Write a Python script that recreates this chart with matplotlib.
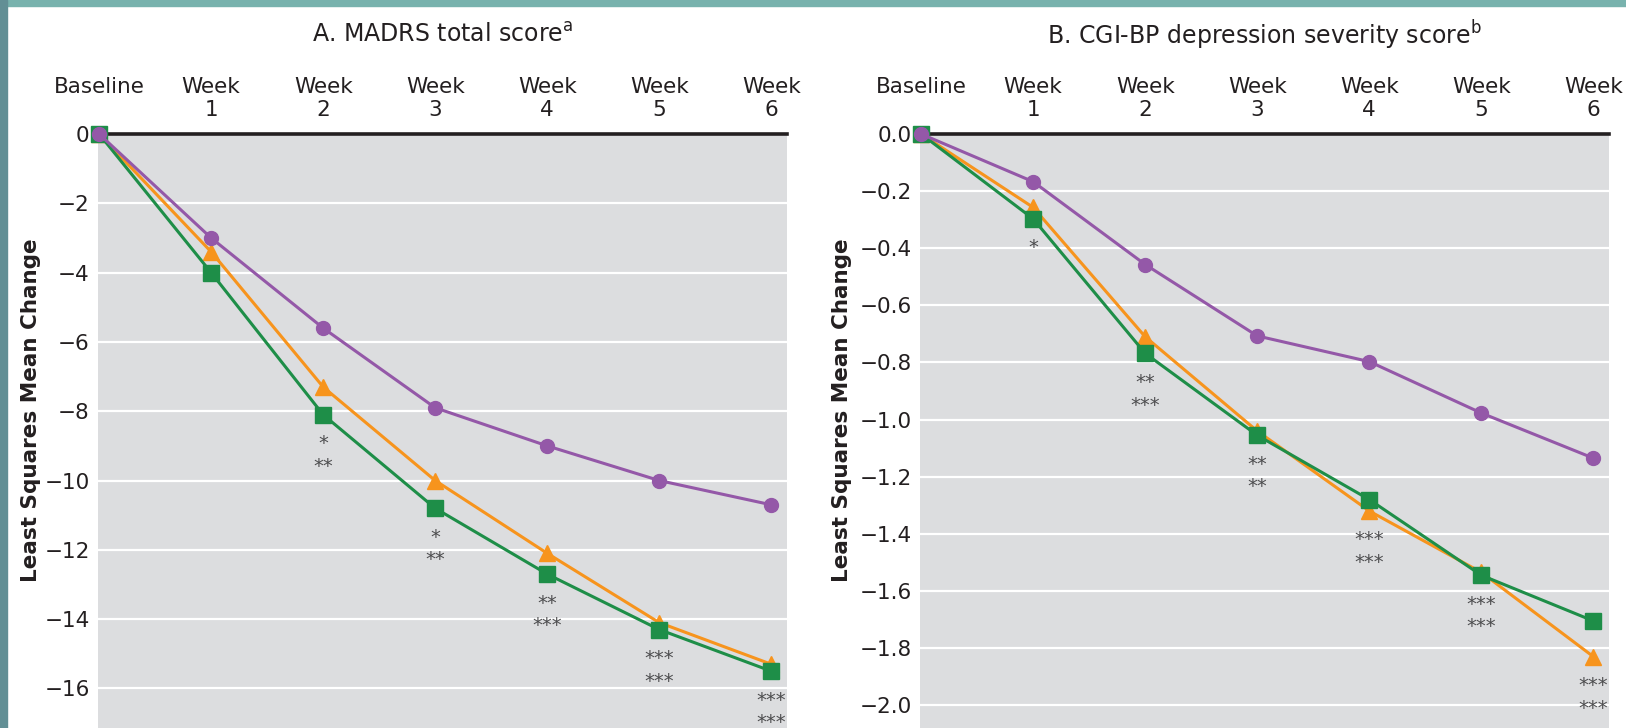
import matplotlib.pyplot as plt
from matplotlib.patches import Rectangle

# Weeks (x positions) and their labels
weeks = [0, 1, 2, 3, 4, 5, 6]
week_labels = ["Baseline\n ", "Week\n1", "Week\n2", "Week\n3", "Week\n4", "Week\n5", "Week\n6"]

# A. MADRS total score, least squares mean change
madrs_purple = [0, -3.0, -5.6, -7.9, -9.0, -10.0, -10.7]
madrs_orange = [0, -3.4, -7.3, -10.0, -12.1, -14.1, -15.3]
madrs_green = [0, -4.0, -8.1, -10.8, -12.7, -14.3, -15.5]
madrs_stars = ["", "", "*\n**", "*\n**", "**\n***", "***\n***", "***\n***"]
madrs_ticks = [0, -2, -4, -6, -8, -10, -12, -14, -16]

# B. CGI-BP depression severity score
cgi_purple = [0, -0.167, -0.457, -0.707, -0.797, -0.977, -1.135]
cgi_orange = [0, -0.257, -0.71, -1.04, -1.32, -1.535, -1.83]
cgi_green = [0, -0.297, -0.768, -1.055, -1.28, -1.545, -1.705]
cgi_stars = ["", "*", "**\n***", "**\n**", "***\n***", "***\n***", "***\n***"]
cgi_ticks = [0.0, -0.2, -0.4, -0.6, -0.8, -1.0, -1.2, -1.4, -1.6, -1.8, -2.0]

PURPLE = "#9458a8"
ORANGE = "#f7941d"
GREEN = "#1e8e48"
PANEL = "#dcdddf"
INK = "#231f20"

plt.rcParams["font.family"] = ["DejaVu Sans"]

W, H = 1626, 728
fig = plt.figure(figsize=(W / 100, H / 100), dpi=100)

# teal slide frame along the top and the left side
fig.patches.append(Rectangle((0, 1 - 6 / H), 1, 6 / H, transform=fig.transFigure,
                             color="#78b2ad", zorder=0))
fig.patches.append(Rectangle((0, 0), 7 / W, 1, transform=fig.transFigure,
                             color="#628f95", zorder=0))


def panel(left, title, purple, orange, green, stars, ticks, ylow, fmt, ylabel_x):
    ax = fig.add_axes([left / W, 0, 689 / W, (H - 134) / H])
    ax.set_facecolor(PANEL)
    for s in ax.spines.values():
        s.set_visible(False)

    for t in ticks[1:]:
        ax.axhline(t, color="white", lw=1.6, zorder=1)
    ax.axhline(0, color=INK, lw=2.6, zorder=2, clip_on=False)

    ax.plot(weeks, orange, color=ORANGE, lw=2.2, marker="^", ms=12, zorder=3, clip_on=False)
    ax.plot(weeks, green, color=GREEN, lw=2.2, marker="s", ms=12, zorder=4, clip_on=False)
    ax.plot(weeks, purple, color=PURPLE, lw=2.2, marker="o", ms=10, zorder=5, clip_on=False)

    for x, lab, a, b in zip(weeks, stars, orange, green):
        if lab:
            ax.annotate(lab, (x, min(a, b)), xytext=(0, -14), textcoords="offset points",
                        ha="center", va="top", fontsize=14, color="#4d4d4f",
                        linespacing=1.25, zorder=6, annotation_clip=False)

    ax.set_xlim(-0.01, 6.14)
    ax.set_ylim(ylow, 0)
    ax.set_yticks(ticks)
    ax.set_yticklabels([fmt.format(t).replace("-", "\u2212") for t in ticks])
    ax.set_xticks(weeks)
    ax.set_xticklabels(week_labels)
    ax.xaxis.tick_top()
    ax.tick_params(axis="x", length=0, pad=10, labelsize=15.5, colors=INK)
    ax.tick_params(axis="y", length=0, pad=6, labelsize=15.5, colors=INK)

    fig.text((left + 344.5) / W, 1 - 35 / H, title, ha="center", va="center",
             fontsize=17, color=INK)
    fig.text(ylabel_x / W, 1 - 410 / H, "Least Squares Mean Change", rotation=90,
             ha="center", va="center", fontsize=15.5, fontweight="bold", color=INK)
    return ax


panel(98, "A. MADRS total score$^\\mathregular{a}$", madrs_purple, madrs_orange,
      madrs_green, madrs_stars, madrs_ticks, -17.14, "{:.0f}", 31)
panel(920, "B. CGI-BP depression severity score$^\\mathregular{b}$", cgi_purple,
      cgi_orange, cgi_green, cgi_stars, cgi_ticks, -2.08, "{:.1f}", 842)

fig.savefig("out.png", dpi=100)
